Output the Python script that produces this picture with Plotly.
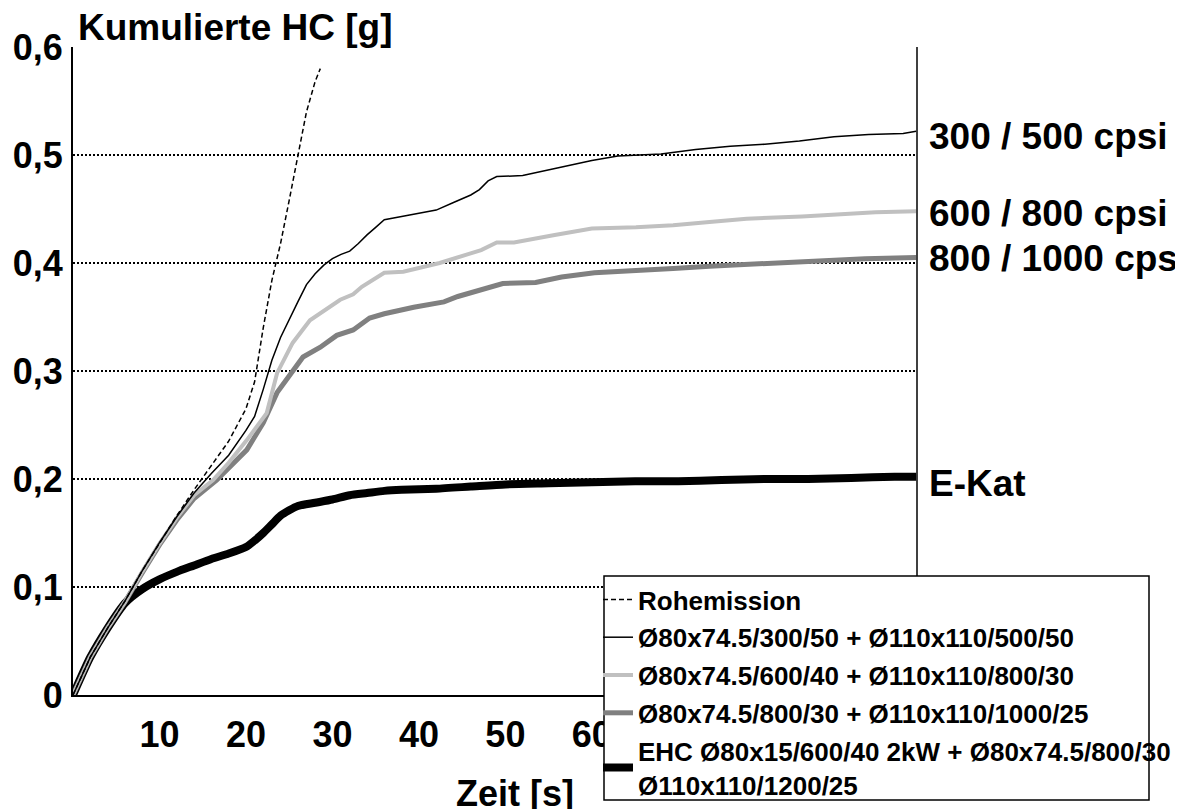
import plotly.graph_objects as go

# ---- data ----
t_roh = [0, 2, 4, 6, 8, 10, 12, 14, 16, 18, 19, 20, 21, 22, 23, 24, 25, 26, 27, 28, 28.6]
v_roh = [0, .035, .062, .087, .115, .141, .166, .19, .212, .235, .25, .265, .29, .34, .384, .418, .458, .498, .54, .568, .58]

t_300 = [0, 2, 4, 6, 8, 10, 12, 14, 16, 18, 20, 21, 22, 23, 24, 25, 26, 27, 28, 29, 30, 31, 32, 33, 34, 35, 36, 38,
         40, 42, 44, 46, 47, 48, 49, 52, 56, 60, 63, 66, 68, 72, 76, 80, 84, 88, 92, 96, 97.5]
v_300 = [0, .035, .062, .087, .115, .141, .165, .187, .205, .222, .245, .258, .283, .31, .331, .348, .364, .38, .39,
         .398, .404, .408, .411, .418, .426, .433, .44, .443, .446, .449, .456, .463, .468, .476, .48, .481, .488,
         .495, .499, .5, .501, .505, .508, .51, .513, .517, .519, .52, .522]

t_600 = [0, 2, 4, 6, 8, 10, 12, 14, 16.2, 18, 20.1, 22.4, 23.6, 25.4, 27.4, 30.9, 32.4, 33.4, 36, 38.2, 42.4, 45,
         47.2, 49, 51, 55.7, 60, 65.1, 69.4, 73.6, 77.9, 84.3, 88.6, 92.8, 97.5]
v_600 = [0, .035, .062, .086, .114, .14, .164, .185, .199, .215, .236, .261, .298, .326, .347, .366, .371, .378,
         .391, .392, .4, .407, .412, .419, .419, .426, .432, .433, .435, .438, .441, .443, .445, .447, .448]

t_800 = [0, 2, 4, 6, 8, 10, 12, 14, 16.6, 18, 20.1, 22, 23.6, 26.6, 28.6, 30.5, 32.4, 34.3, 36, 39.4, 42.9, 44.5,
         48, 49.7, 53.5, 56.5, 60.3, 65.9, 69.4, 73.6, 78.7, 84.3, 91.6, 97.5]
v_800 = [0, .035, .062, .086, .113, .139, .162, .182, .199, .21, .227, .252, .28, .313, .322, .333, .338, .349, .353,
         .359, .364, .369, .377, .381, .382, .387, .391, .393, .395, .397, .399, .401, .404, .405]

t_ekat = [0, 2, 4, 6, 8, 10, 12, 14, 16, 18, 20, 21, 22, 23, 24, 25, 26, 28, 30, 32, 34, 36, 38, 42, 46, 50, 55, 60,
          65, 70, 75, 80, 85, 90, 95, 97.5]
v_ekat = [0, .035, .062, .085, .098, .107, .114, .12, .126, .131, .137, .143, .15, .158, .166, .171, .175, .178, .181,
          .185, .187, .189, .19, .191, .193, .195, .196, .197, .198, .198, .199, .2, .2, .201, .202, .202]

names = ["Rohemission",
         "Ø80x74.5/300/50 + Ø110x110/500/50",
         "Ø80x74.5/600/40 + Ø110x110/800/30",
         "Ø80x74.5/800/30 + Ø110x110/1000/25",
         "EHC Ø80x15/600/40 2kW + Ø80x74.5/800/30 +<br>Ø110x110/1200/25"]

right_labels = ["300 / 500 cpsi", "600 / 800 cpsi", "800 / 1000 cpsi", "E-Kat"]
right_label_vals = [0.517, 0.446, 0.404, 0.196]

x_ticks = [10, 20, 30, 40, 50, 60, 70, 80, 90]
y_ticks = [0, 0.1, 0.2, 0.3, 0.4, 0.5, 0.6]
y_ticktext = ["0", "0,1", "0,2", "0,3", "0,4", "0,5", "0,6"]

FONT = "Liberation Sans, Arial, sans-serif"

# plot area in window pixels: x 73..917, y 47..695 (page body has an 8px margin)
PL, PR, PT, PB = 73, 917, 47, 695
PW, PH = PR - PL, PB - PT


def px(x):
    return (x - PL) / PW


def py(y):
    return (PB - y) / PH


fig = go.Figure()
# drawing order: E-Kat at bottom, dashed on top
fig.add_trace(go.Scatter(x=t_ekat, y=v_ekat, mode="lines", name=names[4], legendgroup="e", legendrank=5,
                         line=dict(color="black", width=8, shape="spline", smoothing=0.6)))
fig.add_trace(go.Scatter(x=t_800, y=v_800, mode="lines", name=names[3], legendgroup="d", legendrank=4,
                         line=dict(color="#808080", width=5)))
fig.add_trace(go.Scatter(x=t_600, y=v_600, mode="lines", name=names[2], legendgroup="c", legendrank=3,
                         line=dict(color="#c0c0c0", width=4)))
fig.add_trace(go.Scatter(x=t_300, y=v_300, mode="lines", name=names[1], legendgroup="b", legendrank=2,
                         line=dict(color="black", width=1.5)))
fig.add_trace(go.Scatter(x=t_roh, y=v_roh, mode="lines", name=names[0], legendgroup="a", legendrank=1,
                         line=dict(color="black", width=1.5, dash="5px,3px")))

ann = []
ann.append(dict(text="<b>Kumulierte HC [g]</b>", xref="paper", yref="paper", x=px(76), y=1.0,
                xanchor="left", yanchor="middle", yshift=PT - 27, showarrow=False,
                font=dict(family=FONT, size=37, color="black")))
ann.append(dict(text="<b>Zeit [s]</b>", xref="paper", yref="paper", x=px(515), y=0,
                xanchor="center", yanchor="middle", yshift=-(793 - PB), showarrow=False,
                font=dict(family=FONT, size=36, color="black")))
for lab, val in zip(right_labels, right_label_vals):
    ann.append(dict(text="<b>" + lab + "</b>", xref="paper", yref="y", x=1, y=val,
                    xanchor="left", yanchor="middle", xshift=10, showarrow=False,
                    font=dict(family=FONT, size=37, color="black")))

fig.update_layout(
    width=1175, height=801,
    margin=dict(l=PL - 8, r=1175 - (PL - 8) - PW, t=PT - 8, b=801 - (PT - 8) - PH, autoexpand=False),
    plot_bgcolor="white", paper_bgcolor="white",
    separators=",.",
    showlegend=True,
    legend=dict(x=px(598), y=py(576), xanchor="left", yanchor="top",
                bgcolor="rgba(0,0,0,0)", borderwidth=0,
                font=dict(family=FONT, size=26, color="black", weight="bold"),
                traceorder="grouped", tracegroupgap=1, itemwidth=30),
    annotations=ann,
    shapes=[
        dict(type="line", xref="paper", yref="paper", x0=1, x1=1, y0=0, y1=1,
             line=dict(color="black", width=1.5), layer="above"),
        dict(type="rect", xref="paper", yref="paper", x0=px(604), x1=px(1149), y0=py(800), y1=py(576),
             fillcolor="white", line=dict(color="black", width=1.5), layer="above"),
    ],
)
fig.update_xaxes(range=[0, 97.6], tickvals=x_ticks, ticktext=[str(v) for v in x_ticks],
                 showgrid=False, zeroline=False, showline=True, linecolor="black", linewidth=2,
                 ticks="", ticklabelstandoff=7, automargin=False,
                 tickfont=dict(family=FONT, size=36, color="black", weight="bold"))
fig.update_yaxes(range=[0, 0.6], tickvals=y_ticks, ticktext=y_ticktext,
                 showgrid=True, gridcolor="black", griddash="2px,2px", gridwidth=1.5,
                 zeroline=False, showline=True, linecolor="black", linewidth=2,
                 ticks="", ticklabelstandoff=1, automargin=False,
                 tickfont=dict(family=FONT, size=36, color="black", weight="bold"))

fig.write_html("out.html")
